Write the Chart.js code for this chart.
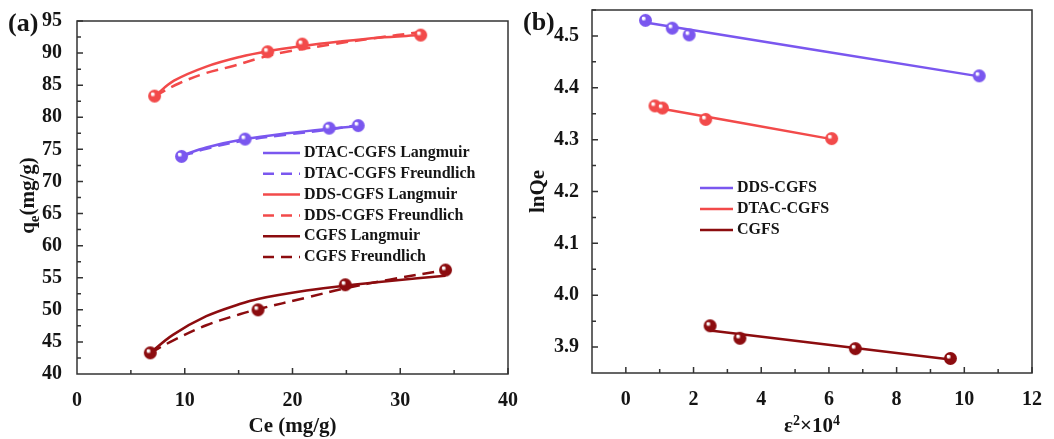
<!DOCTYPE html>
<html>
<head>
<meta charset="utf-8">
<script src="https://cdn.jsdelivr.net/npm/chart.js@4.4.1/dist/chart.umd.min.js"></script>
<style>
  body { margin: 0; background: #fff; }
  #wrap { position: relative; width: 1054px; height: 439px; }
  #boxA { position: absolute; left: 0; top: 0; width: 520px; height: 439px; }
  #boxB { position: absolute; left: 520px; top: 0; width: 534px; height: 439px; }
</style>
</head>
<body>
<div id="wrap">
  <div id="boxA"><canvas id="chartA"></canvas></div>
  <div id="boxB"><canvas id="chartB"></canvas></div>
</div>
<script>
// ---- (a) datos experimentales ----
const ceDds = [7.2, 17.7, 20.9, 31.9];
const qeDds = [83.3, 90.2, 91.4, 92.8];
const ceDtac = [9.7, 15.6, 23.4, 26.1];
const qeDtac = [73.9, 76.6, 78.3, 78.7];
const ceCgfs = [6.8, 16.8, 24.9, 34.2];
const qeCgfs = [43.3, 50.0, 53.9, 56.2];

// ---- (a) curvas de ajuste ----
const ddsLangCe = [7.2, 9.0, 12.0, 15.1, 17.7, 20.9, 24.4, 28.0, 31.9];
const ddsLangQe = [83.3, 85.7, 87.9, 89.4, 90.3, 91.1, 91.8, 92.4, 92.8];
const ddsFreuCe = [7.2, 9.5, 12.0, 14.5, 16.7, 18.8, 23.8, 27.5, 31.9];
const ddsFreuQe = [83.3, 85.3, 86.9, 88.0, 89.1, 90.0, 91.4, 92.3, 93.3];
const dtacFitCe = [9.7, 12.0, 15.6, 19.5, 23.4, 26.1];
const dtacLangQe = [74.0, 75.3, 76.6, 77.5, 78.2, 78.6];
const dtacFreuQe = [73.9, 75.1, 76.4, 77.3, 78.1, 78.8];
const cgfsFitCe = [6.8, 8.9, 12.0, 15.1, 16.8, 21.3, 25.0, 29.0, 34.2];
const cgfsLangQe = [43.3, 46.1, 49.0, 50.9, 51.7, 53.0, 53.8, 54.5, 55.3];
const cgfsFreuQe = [43.3, 45.2, 47.6, 49.3, 50.1, 51.9, 53.4, 54.7, 56.2];

// ---- (b) D-R ----
const epsDds = [0.58, 1.37, 1.87, 10.44];
const lnDds = [4.530, 4.515, 4.502, 4.423];
const epsDtac = [0.86, 1.08, 2.36, 6.08];
const lnDtac = [4.365, 4.361, 4.339, 4.302];
const epsCgfs = [2.49, 3.37, 6.78, 9.59];
const lnCgfs = [3.941, 3.917, 3.897, 3.878];
const fitDdsX = [0.58, 10.44], fitDdsY = [4.526, 4.422];
const fitDtacX = [0.86, 6.08], fitDtacY = [4.362, 4.301];
const fitCgfsX = [2.49, 9.59], fitCgfsY = [3.932, 3.876];

// ---- ejes ----
const xTicksA = [0, 10, 20, 30, 40];
const yTicksA = [40, 45, 50, 55, 60, 65, 70, 75, 80, 85, 90, 95];
const xTicksB = [0, 2, 4, 6, 8, 10, 12];
const yTicksB = [3.9, 4.0, 4.1, 4.2, 4.3, 4.4, 4.5];

const PURPLE = '#7a57ef';
const RED = '#f24a4a';
const DARK = '#8c0c0f';
const INK = '#151515';
const SERIF = '"Liberation Serif", "Times New Roman", serif';

const xy = (xs, ys) => xs.map((x, i) => ({ x: x, y: ys[i] }));

// esfera sombreada para los marcadores
function sphere(color, r) {
  const c = document.createElement('canvas');
  c.width = c.height = 2 * r + 2;
  const g = c.getContext('2d');
  const cx = r + 1, cy = r + 1;
  const grad = g.createRadialGradient(cx - r * 0.4, cy - r * 0.4, 0, cx, cy, r);
  grad.addColorStop(0, '#ffffff');
  grad.addColorStop(0.18, '#ffffff');
  grad.addColorStop(0.4, color);
  grad.addColorStop(1, color);
  g.fillStyle = grad;
  g.beginPath();
  g.arc(cx, cy, r, 0, Math.PI * 2);
  g.fill();
  return c;
}

function markers(xs, ys, color) {
  return { data: xy(xs, ys), pointStyle: sphere(color, 6.5), pointRadius: 7, showLine: false, order: 0 };
}
function curve(label, xs, ys, color, dashed) {
  return {
    label: label, data: xy(xs, ys), showLine: true, borderColor: color, borderWidth: 2.5,
    borderDash: dashed ? [12, 7] : [], pointRadius: 0, tension: 0.35,
    fill: false, order: 1
  };
}

// texto con sub/superíndices: [texto, tamaño, desplazamiento]
function richText(ctx, parts, cx, cy) {
  let total = 0;
  parts.forEach(p => { ctx.font = 'bold ' + p[1] + 'px ' + SERIF; total += ctx.measureText(p[0]).width; });
  let x = cx - total / 2;
  ctx.textAlign = 'left';
  ctx.textBaseline = 'middle';
  parts.forEach(p => {
    ctx.font = 'bold ' + p[1] + 'px ' + SERIF;
    ctx.fillText(p[0], x, cy + p[2]);
    x += ctx.measureText(p[0]).width;
  });
}

// marco, marcas interiores, títulos y leyenda
const decor = {
  id: 'decor',
  afterDraw(chart, args, o) {
    const ctx = chart.ctx;
    const a = chart.chartArea;
    const xs = chart.scales.x, ys = chart.scales.y;
    ctx.save();
    ctx.strokeStyle = '#333';
    ctx.lineWidth = 1.5;
    ctx.strokeRect(a.left, a.top, a.right - a.left, a.bottom - a.top);
    ctx.beginPath();
    for (let v = xs.min + o.xMinorStart; v <= xs.max + 1e-9; v += o.xMinor) {
      const px = xs.getPixelForValue(v);
      const major = Math.abs(v / o.xMajor - Math.round(v / o.xMajor)) < 1e-6;
      ctx.moveTo(px, a.bottom);
      ctx.lineTo(px, a.bottom - (major ? 6 : 4));
    }
    for (let v = o.yMinorStart; v <= ys.max + 1e-9; v += o.yMinor) {
      const py = ys.getPixelForValue(v);
      const major = Math.abs(v / o.yMajor - Math.round(v / o.yMajor)) < 1e-6;
      ctx.moveTo(a.left, py);
      ctx.lineTo(a.left + (major ? 6 : 4), py);
    }
    ctx.stroke();

    // etiqueta del panel
    ctx.fillStyle = INK;
    ctx.font = 'bold 26px ' + SERIF;
    ctx.textBaseline = 'alphabetic';
    ctx.textAlign = 'left';
    ctx.fillText(o.panel, o.panelX, o.panelY);

    // título del eje x
    if (o.xTitle) richText(ctx, o.xTitle, (a.left + a.right) / 2, o.xTitleY);

    // título del eje y
    ctx.translate(o.yTitleX, (a.top + a.bottom) / 2 + o.yTitleDy);
    ctx.rotate(-Math.PI / 2);
    richText(ctx, o.yTitle, 0, 0);
    ctx.restore();

    // leyenda
    ctx.save();
    ctx.font = 'bold 16px ' + SERIF;
    ctx.textBaseline = 'middle';
    ctx.fillStyle = INK;
    let row = 0;
    chart.data.datasets.forEach(ds => {
      if (!ds.label) return;
      const y = o.legY + row * o.legStep;
      ctx.strokeStyle = ds.borderColor;
      ctx.lineWidth = 2.5;
      ctx.setLineDash(ds.borderDash && ds.borderDash.length ? [11, 7] : []);
      ctx.beginPath();
      ctx.moveTo(o.legX, y);
      ctx.lineTo(o.legX + o.legLen, y);
      ctx.stroke();
      ctx.fillText(ds.label, o.legX + o.legLen + 4, y);
      row++;
    });
    ctx.restore();
  }
};

function axis(min, max, ticks, fixed, extra) {
  return Object.assign({
    type: 'linear', min: min, max: max,
    grid: { display: false }, border: { display: false },
    afterBuildTicks: s => { s.ticks = ticks.map(v => ({ value: v })); },
    afterFit: s => {
      if (s.isHorizontal()) s.height = fixed; else s.width = fixed;
      s.paddingTop = 0; s.paddingBottom = 0; s.paddingLeft = 0; s.paddingRight = 0;
    }
  }, extra);
}

const tickFont = { family: SERIF, size: 20, weight: 'bold' };

new Chart(document.getElementById('chartA'), {
  type: 'scatter',
  data: {
    datasets: [
      curve('DTAC-CGFS Langmuir', dtacFitCe, dtacLangQe, PURPLE, false),
      curve('DTAC-CGFS Freundlich', dtacFitCe, dtacFreuQe, PURPLE, true),
      curve('DDS-CGFS Langmuir', ddsLangCe, ddsLangQe, RED, false),
      curve('DDS-CGFS Freundlich', ddsFreuCe, ddsFreuQe, RED, true),
      curve('CGFS Langmuir', cgfsFitCe, cgfsLangQe, DARK, false),
      curve('CGFS Freundlich', cgfsFitCe, cgfsFreuQe, DARK, true),
      markers(ceDtac, qeDtac, PURPLE),
      markers(ceDds, qeDds, RED),
      markers(ceCgfs, qeCgfs, DARK)
    ]
  },
  options: {
    responsive: true,
    maintainAspectRatio: false,
    animation: false,
    events: [],
    layout: { padding: { left: 0, right: 12, top: 21, bottom: 0 } },
    scales: {
      x: axis(0, 40, xTicksA, 65, {
        ticks: { color: INK, font: tickFont, padding: 7, maxRotation: 0 }
      }),
      y: axis(40, 95, yTicksA, 77, {
        ticks: { color: INK, font: tickFont, padding: 7 }
      })
    },
    plugins: {
      legend: { display: false },
      tooltip: { enabled: false },
      decor: {
        panel: '(a)', panelX: 8, panelY: 31,
        xTitle: [['Ce (mg/g)', 21, 0]], xTitleY: 427,
        yTitle: [['q', 21, 0], ['e', 15, 6], ['(mg/g)', 21, 0]], yTitleX: 29, yTitleDy: -2,
        xMinor: 5, xMajor: 10, xMinorStart: 5, yMinor: 2.5, yMajor: 5, yMinorStart: 42.5,
        legX: 263, legY: 153, legStep: 20.8, legLen: 37
      }
    }
  },
  plugins: [decor]
});

new Chart(document.getElementById('chartB'), {
  type: 'scatter',
  data: {
    datasets: [
      curve('DDS-CGFS', fitDdsX, fitDdsY, PURPLE, false),
      curve('DTAC-CGFS', fitDtacX, fitDtacY, RED, false),
      curve('CGFS', fitCgfsX, fitCgfsY, DARK, false),
      markers(epsDds, lnDds, PURPLE),
      markers(epsDtac, lnDtac, RED),
      markers(epsCgfs, lnCgfs, DARK)
    ]
  },
  options: {
    responsive: true,
    maintainAspectRatio: false,
    animation: false,
    events: [],
    layout: { padding: { left: 0, right: 22, top: 10, bottom: 0 } },
    scales: {
      x: axis(-1, 12, xTicksB, 66, {
        ticks: { color: INK, font: tickFont, padding: 7, maxRotation: 0 }
      }),
      y: axis(3.85, 4.55, yTicksB, 72, {
        ticks: { color: INK, font: tickFont, padding: 5, callback: v => v.toFixed(1) }
      })
    },
    plugins: {
      legend: { display: false },
      tooltip: { enabled: false },
      decor: {
        panel: '(b)', panelX: 3, panelY: 30,
        xTitle: [['ε', 21, 0], ['2', 14, -6], ['×10', 21, 0], ['4', 14, -6]], xTitleY: 427,
        yTitle: [['lnQe', 21, 0]], yTitleX: 19, yTitleDy: 0,
        xMinor: 1, xMajor: 2, xMinorStart: 1, yMinor: 0.05, yMajor: 0.1, yMinorStart: 3.9,
        legX: 180, legY: 188, legStep: 21, legLen: 33
      }
    }
  },
  plugins: [decor]
});
</script>
</body>
</html>
